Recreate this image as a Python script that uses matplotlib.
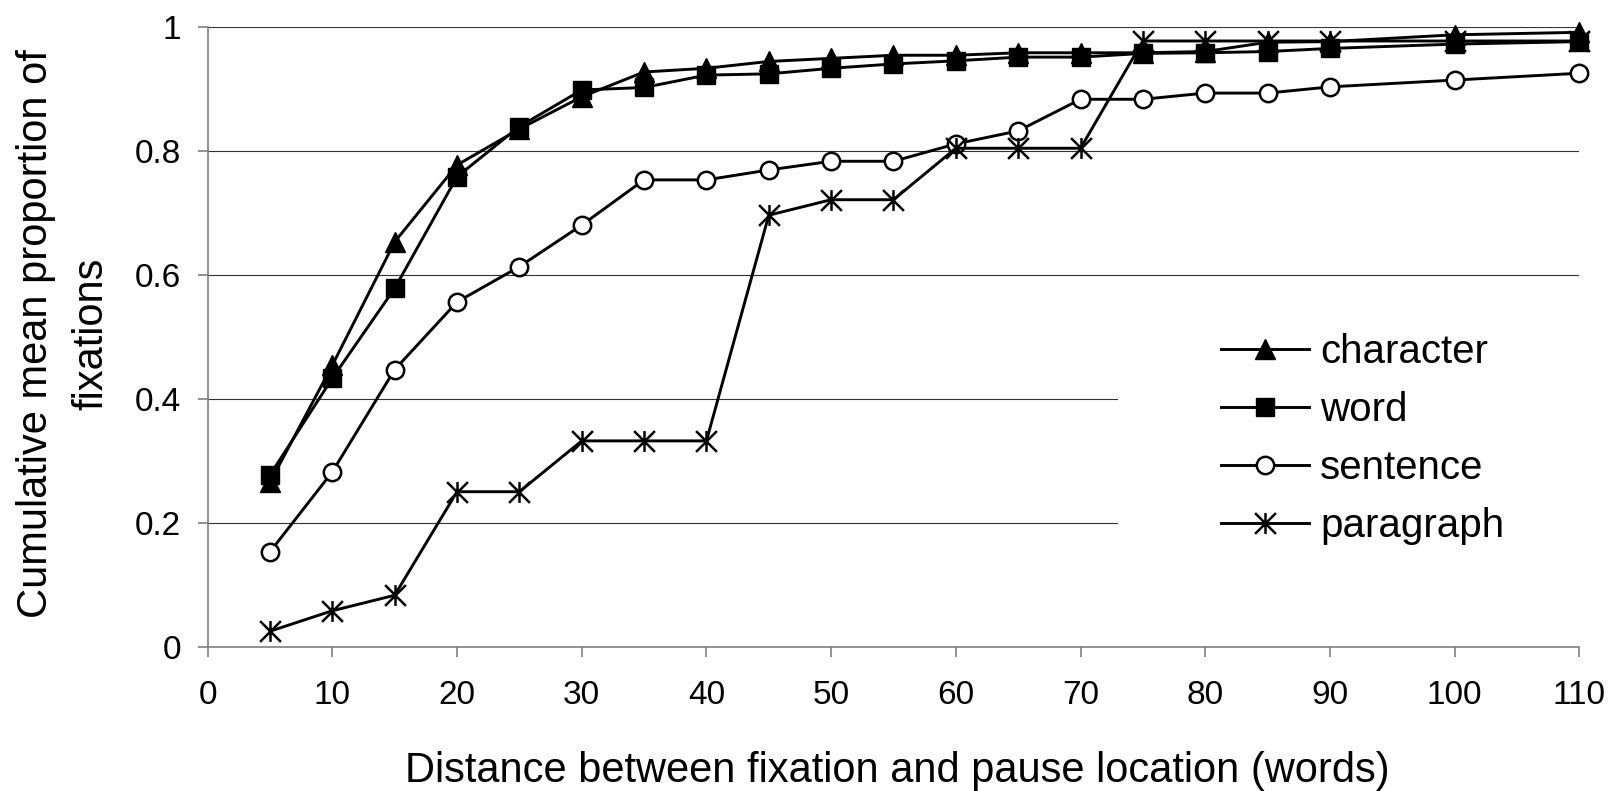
import numpy as np
import matplotlib
matplotlib.use("Agg")
import matplotlib.pyplot as plt
from matplotlib.path import Path
from matplotlib.patches import Rectangle

plt.rcParams['font.family'] = ['Liberation Sans', 'DejaVu Sans']

# data
distance = [5, 10, 15, 20, 25, 30, 35, 40, 45, 50, 55, 60, 65, 70, 75, 80, 85, 90, 100, 110]
character = [0.265, 0.454, 0.653, 0.777, 0.835, 0.887, 0.927, 0.933, 0.944, 0.949,
             0.954, 0.954, 0.958, 0.958, 0.958, 0.960, 0.975, 0.976, 0.987, 0.991]
word = [0.277, 0.433, 0.578, 0.758, 0.839, 0.898, 0.902, 0.922, 0.924, 0.933,
        0.940, 0.945, 0.951, 0.951, 0.957, 0.958, 0.960, 0.965, 0.972, 0.976]
sentence = [0.153, 0.282, 0.447, 0.556, 0.613, 0.680, 0.753, 0.753, 0.769, 0.783,
            0.783, 0.811, 0.832, 0.883, 0.883, 0.893, 0.893, 0.903, 0.914, 0.925]
paragraph = [0.025, 0.058, 0.083, 0.250, 0.250, 0.332, 0.332, 0.332, 0.696, 0.721,
             0.721, 0.804, 0.804, 0.804, 0.977, 0.977, 0.977, 0.977, 0.977, 0.977]

x_ticks = list(range(0, 111, 10))
y_ticks = [0, 0.2, 0.4, 0.6, 0.8, 1.0]
y_tick_labels = ['0', '0.2', '0.4', '0.6', '0.8', '1']

# excel style star: X with a vertical bar
star = Path([(0, -1), (0, 1), (-1, -1), (1, 1), (-1, 1), (1, -1)],
            [Path.MOVETO, Path.LINETO, Path.MOVETO, Path.LINETO, Path.MOVETO, Path.LINETO])

fig = plt.figure(figsize=(16.17, 7.91), dpi=100)
ax = fig.add_axes([0.1284, 0.1824, 0.8483, 0.7838])

lw = 2.1
ax.plot(distance, character, color='k', lw=lw, marker='^', ms=14.5, mfc='k', mec='k',
        label='character', clip_on=False, zorder=3)
ax.plot(distance, word, color='k', lw=lw, marker='s', ms=13, mfc='k', mec='k',
        label='word', clip_on=False, zorder=3)
ax.plot(distance, sentence, color='k', lw=lw, marker='o', ms=12.5, mfc='white', mec='k',
        mew=1.8, label='sentence', clip_on=False, zorder=3)
ax.plot(distance, paragraph, color='k', lw=lw, marker=star, ms=15, mfc='none', mec='k',
        mew=1.8, label='paragraph', clip_on=False, zorder=3)

ax.set_xlim(0, 110)
ax.set_ylim(0, 1)
ax.set_xticks(x_ticks)
ax.set_yticks(y_ticks)
ax.set_yticklabels(y_tick_labels)

ax.grid(axis='y', color='#333333', lw=0.8)
ax.set_axisbelow(True)
for s in ['top', 'right']:
    ax.spines[s].set_visible(False)
for s in ['left', 'bottom']:
    ax.spines[s].set_color('#808080')
    ax.spines[s].set_linewidth(1.2)

ax.tick_params(axis='both', direction='out', length=7, color='#808080', width=1.2)
ax.tick_params(axis='y', labelsize=24, pad=12)
ax.tick_params(axis='x', labelsize=24, pad=17)

ax.set_xlabel('Distance between fixation and pause location (words)', fontsize=30)
ax.xaxis.label.set_va('baseline')
ax.xaxis.set_label_coords(0.503, -0.2177)
ax.set_ylabel('Cumulative mean proportion of\nfixations', fontsize=30, linespacing=1.5)
ax.yaxis.label.set_va('center')
ax.yaxis.set_label_coords(-0.105, 0.505)

# white legend area hiding the gridlines
ax.add_patch(Rectangle((0.6637, 0.13), 0.34, 0.445, transform=ax.transAxes,
                       facecolor='white', edgecolor='none', zorder=1))
ax.legend(loc='upper left', bbox_to_anchor=(0.7386, 0.506), frameon=False, fontsize=29,
          handlelength=2.2, handletextpad=0.27, labelspacing=0.5, borderpad=0,
          borderaxespad=0)

fig.savefig('out.png', dpi=100)
